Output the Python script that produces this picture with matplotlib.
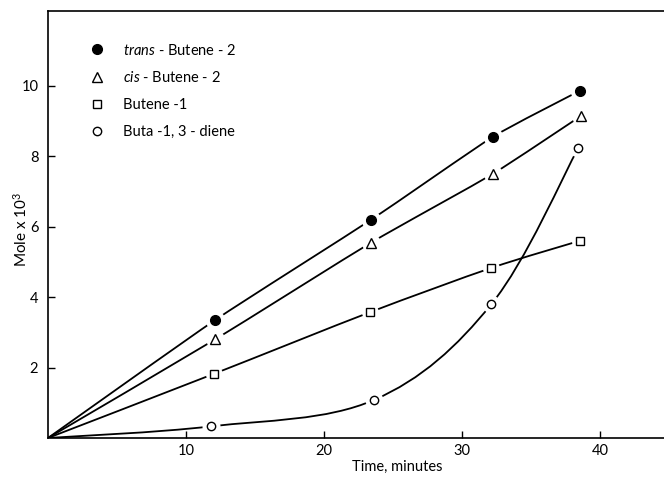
import numpy as np
import matplotlib
matplotlib.use("Agg")
import matplotlib.pyplot as plt
from matplotlib.path import Path
from matplotlib.patches import PathPatch
from matplotlib.lines import Line2D

plt.rcParams['font.family'] = ['Lato', 'DejaVu Sans']
plt.rcParams['mathtext.fontset'] = 'custom'
plt.rcParams['mathtext.rm'] = 'Lato'
plt.rcParams['mathtext.it'] = 'Lato:italic'

# Data (time in minutes, mole x 10^3)
t_trans = [0, 12.1, 23.4, 32.2, 38.5]
y_trans = [0, 3.35, 6.2, 8.55, 9.86]
t_cis = [0, 12.1, 23.4, 32.2, 38.6]
y_cis = [0, 2.8, 5.55, 7.5, 9.15]
t_b1 = [0, 12.0, 23.3, 32.1, 38.5]
y_b1 = [0, 1.82, 3.57, 4.83, 5.6]
t_bd = [0, 11.8, 23.6, 32.1, 38.4]
y_bd = [0, 0.33, 1.08, 3.8, 8.24]

labels = [r'$\mathit{trans}$ - Butene - 2', r'$\mathit{cis}$ - Butene - 2',
          'Butene -1', 'Buta -1, 3 - diene']
xticks = [10, 20, 30, 40]
yticks = [2, 4, 6, 8, 10]

fig = plt.figure(figsize=(6.64, 4.83), dpi=100)
ax = fig.add_axes([0.0723, 0.0932, 0.9277, 0.885])
ax.set_xlim(0, 44.6)
ax.set_ylim(0, 12.14)


def smooth_path(x, y, k):
    pts = np.column_stack([x, y]).astype(float)
    n = len(pts)
    verts = [pts[0]]
    codes = [Path.MOVETO]
    for i in range(n - 1):
        p0 = pts[i - 1] if i > 0 else pts[i]
        p1 = pts[i]
        p2 = pts[i + 1]
        p3 = pts[i + 2] if i + 2 < n else pts[i + 1]
        c1 = p1 + (p2 - p0) * k
        c2 = p2 - (p3 - p1) * k
        verts += [c1, c2, p2]
        codes += [Path.CURVE4] * 3
    return Path(verts, codes)


series = [
    (t_trans, y_trans, 'o', 'black', 7.0, 0.09),
    (t_cis, y_cis, '^', 'white', 6.5, 0.09),
    (t_b1, y_b1, 's', 'white', 5.2, 0.14),
    (t_bd, y_bd, 'o', 'white', 6.0, 0.17),
]

for t, y, m, fc, ms, k in series:
    ax.add_patch(PathPatch(smooth_path(t, y, k), fill=False, ec='black', lw=1.3,
                           zorder=2, capstyle='round'))
for t, y, m, fc, ms, k in series:
    ax.plot(t[1:], y[1:], linestyle='none', marker='o', ms=ms + 7,
            mfc='white', mec='none', zorder=3)
for t, y, m, fc, ms, k in series:
    ax.plot(t[1:], y[1:], linestyle='none', marker=m, ms=ms,
            mfc=fc, mec='black', mew=1.0, zorder=4)

handles = [Line2D([], [], linestyle='none', marker=m, ms=ms, mfc=fc,
                  mec='black', mew=1.0) for (_, _, m, fc, ms, k) in series]
ax.legend(handles, labels, loc='upper left', bbox_to_anchor=(0.0677, 0.925),
          frameon=False, fontsize=10.5, handlelength=1.0, handletextpad=1.28,
          labelspacing=0.88, borderpad=0, borderaxespad=0)

ax.set_xticks(xticks)
ax.set_yticks(yticks)
ax.tick_params(direction='in', length=5, width=1.0, labelsize=10.5)
ax.tick_params(axis='x', pad=4)
ax.tick_params(axis='y', pad=7)
for s in ['left', 'bottom', 'top']:
    ax.spines[s].set_linewidth(1.2)
ax.spines['right'].set_visible(False)

ax.set_xlabel('Time, minutes', fontsize=10.5)
ax.xaxis.set_label_coords(0.567, -0.051)
ax.set_ylabel(r'Mole x 10$^{3}$', fontsize=11)
ax.yaxis.set_label_coords(-0.03, 0.487)

fig.savefig('out.png', dpi=100)
